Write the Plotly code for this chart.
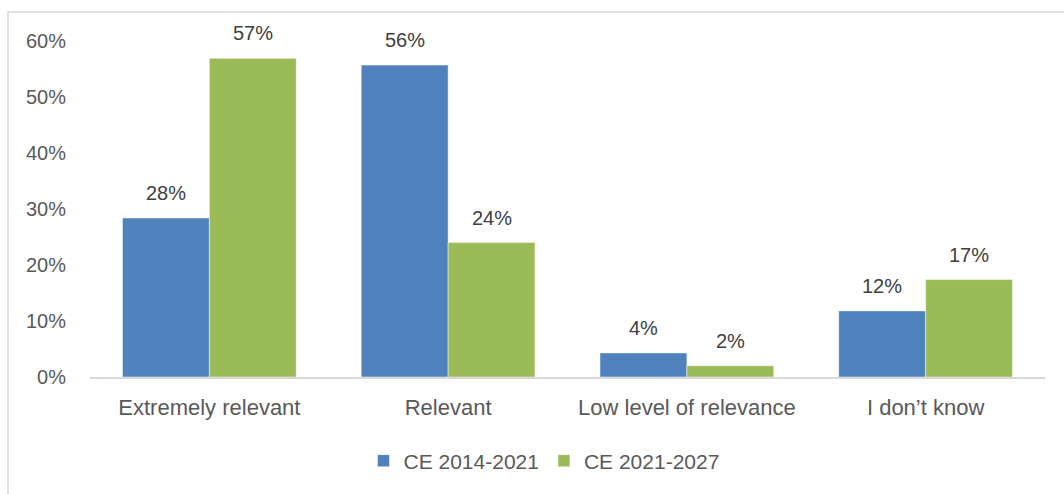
import plotly.graph_objects as go

# Survey answers per period (share of respondents)
categories = ["Extremely relevant", "Relevant", "Low level of relevance", "I don’t know"]
series_names = ["CE 2014-2021", "CE 2021-2027"]
ce_2014_2021 = [0.284, 0.557, 0.043, 0.118]
ce_2021_2027 = [0.569, 0.240, 0.020, 0.174]
y_ticks = [0, 0.1, 0.2, 0.3, 0.4, 0.5, 0.6]

colors = ["#4F81BD", "#9BBB59"]
font_family = "Liberation Sans, Arial, sans-serif"

W, H = 1064, 494
margin = dict(l=90, r=19, t=41, b=117)
bargap = 0.272
plot_w = W - margin["l"] - margin["r"]
plot_h = H - margin["t"] - margin["b"]
bar_px = plot_w / len(categories) * (1 - bargap) / 2

fig = go.Figure()
for name, vals, col in zip(series_names, [ce_2014_2021, ce_2021_2027], colors):
    fig.add_trace(go.Bar(
        name=name, x=categories, y=vals,
        marker=dict(color=col, line=dict(color="rgba(255,255,255,0.6)", width=0.8)),
        hoverinfo="skip",
    ))

# value labels above each bar
annotations = []
for k, vals in enumerate([ce_2014_2021, ce_2021_2027]):
    shift = (k - 0.5) * bar_px
    for cat, v in zip(categories, vals):
        annotations.append(dict(
            x=cat, y=v, xref="x", yref="y", text=f"{v:.0%}",
            showarrow=False, xshift=shift, yshift=25, yanchor="middle",
            font=dict(family=font_family, size=20, color="#404040"),
        ))

# light frame around the chart area
frame = dict(
    type="rect", xref="paper", yref="paper",
    x0=(8 - margin["l"]) / plot_w, x1=(W + 10 - margin["l"]) / plot_w,
    y0=-(H + 10 - margin["t"] - plot_h) / plot_h, y1=1 + (margin["t"] - 12) / plot_h,
    line=dict(color="#D9D9D9", width=1.5), fillcolor="rgba(0,0,0,0)", layer="below",
)

fig.update_layout(
    width=W, height=H, margin=margin,
    paper_bgcolor="white", plot_bgcolor="white",
    barmode="group", bargap=bargap, bargroupgap=0,
    font=dict(family=font_family, color="#595959"),
    annotations=annotations, shapes=[frame],
    showlegend=True,
    legend=dict(
        orientation="h", x=(544 - margin["l"]) / plot_w, xanchor="center",
        y=-(461 - margin["t"] - plot_h) / plot_h, yanchor="middle",
        font=dict(family=font_family, size=21, color="#595959"),
        itemclick=False, itemdoubleclick=False,
    ),
)
fig.update_xaxes(
    showline=True, linecolor="#D9D9D9", linewidth=2,
    ticks="", tickfont=dict(size=22, color="#595959"), ticklabelstandoff=10,
    showgrid=False, fixedrange=True,
)
fig.update_yaxes(
    range=[0, 0.6], tickvals=y_ticks, tickformat=".0%",
    showgrid=False, zeroline=False, showline=False, ticks="",
    tickfont=dict(size=20, color="#595959"), ticklabelstandoff=23,
    fixedrange=True,
)

fig.write_html("out.html", config={"displayModeBar": False})
